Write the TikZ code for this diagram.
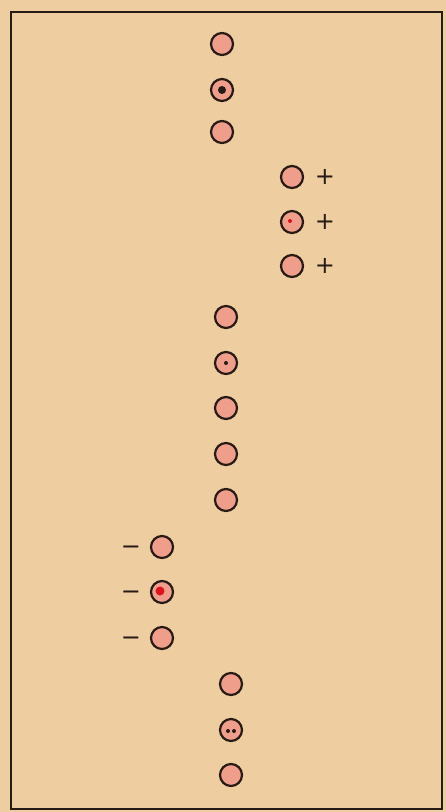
\documentclass[tikz,border=0pt]{standalone}
\usepackage{fontspec}
\newfontfamily\signfont{DejaVu Sans}
\begin{document}
\begin{tikzpicture}[x=1pt,y=-1pt,
  ring/.style={circle,minimum size=22pt,inner sep=0pt,draw=ringc,line width=2.2pt,fill=pinkc},
  sign/.style={inner sep=0pt,font=\signfont\fontsize{24}{26}\selectfont,text=ringc},
  minussign/.style={sign,yshift=-3pt},
  bdot/.style={circle,fill=ringc,inner sep=0pt},
  rdot/.style={circle,fill=dotred,inner sep=0pt}]
\definecolor{bg}{RGB}{238,205,160}
\definecolor{pinkc}{RGB}{238,158,138}
\definecolor{ringc}{RGB}{40,26,20}
\definecolor{dotred}{RGB}{220,20,30}
\fill[bg] (0,0) rectangle (446,812);
\useasboundingbox (0,0) rectangle (446,812);
\draw[ringc,line width=1.5pt] (11,12) rectangle (442,809);
% column 1
\node[ring] (a1) at (222,44) {};
\node[ring] (a2) at (222,90) {};
\node[ring] (a3) at (222,132) {};
\node[bdot,minimum size=8pt] (a2d) at (a2) {};
% column 2
\node[ring] (b1) at (292,177) {};
\node[ring] (b2) at (292,222) {};
\node[ring] (b3) at (292,266) {};
\node[rdot,minimum size=4pt] (b2d) at (290,221) {};
\node[sign] (bp1) at (325,177) {+};
\node[sign] (bp2) at (325,222) {+};
\node[sign] (bp3) at (325,266) {+};
% column 3
\node[ring] (c1) at (226,317) {};
\node[ring] (c2) at (226,363) {};
\node[ring] (c3) at (226,408) {};
\node[ring] (c4) at (226,454) {};
\node[ring] (c5) at (226,500) {};
\node[bdot,minimum size=4pt] (c2d) at (c2) {};
% column 4
\node[ring] (d1) at (162,547) {};
\node[ring] (d2) at (162,592) {};
\node[ring] (d3) at (162,638) {};
\node[rdot,minimum size=9pt] (d2d) at (160,591) {};
\node[minussign] (dm1) at (131,547) {−};
\node[minussign] (dm2) at (131,592) {−};
\node[minussign] (dm3) at (131,638) {−};
% column 5
\node[ring] (e1) at (231,684) {};
\node[ring] (e2) at (231,730) {};
\node[ring] (e3) at (231,775) {};
\node[bdot,minimum size=4pt] (e2l) at (228,731) {};
\node[bdot,minimum size=4pt] (e2r) at (234,731) {};
\end{tikzpicture}
\end{document}
